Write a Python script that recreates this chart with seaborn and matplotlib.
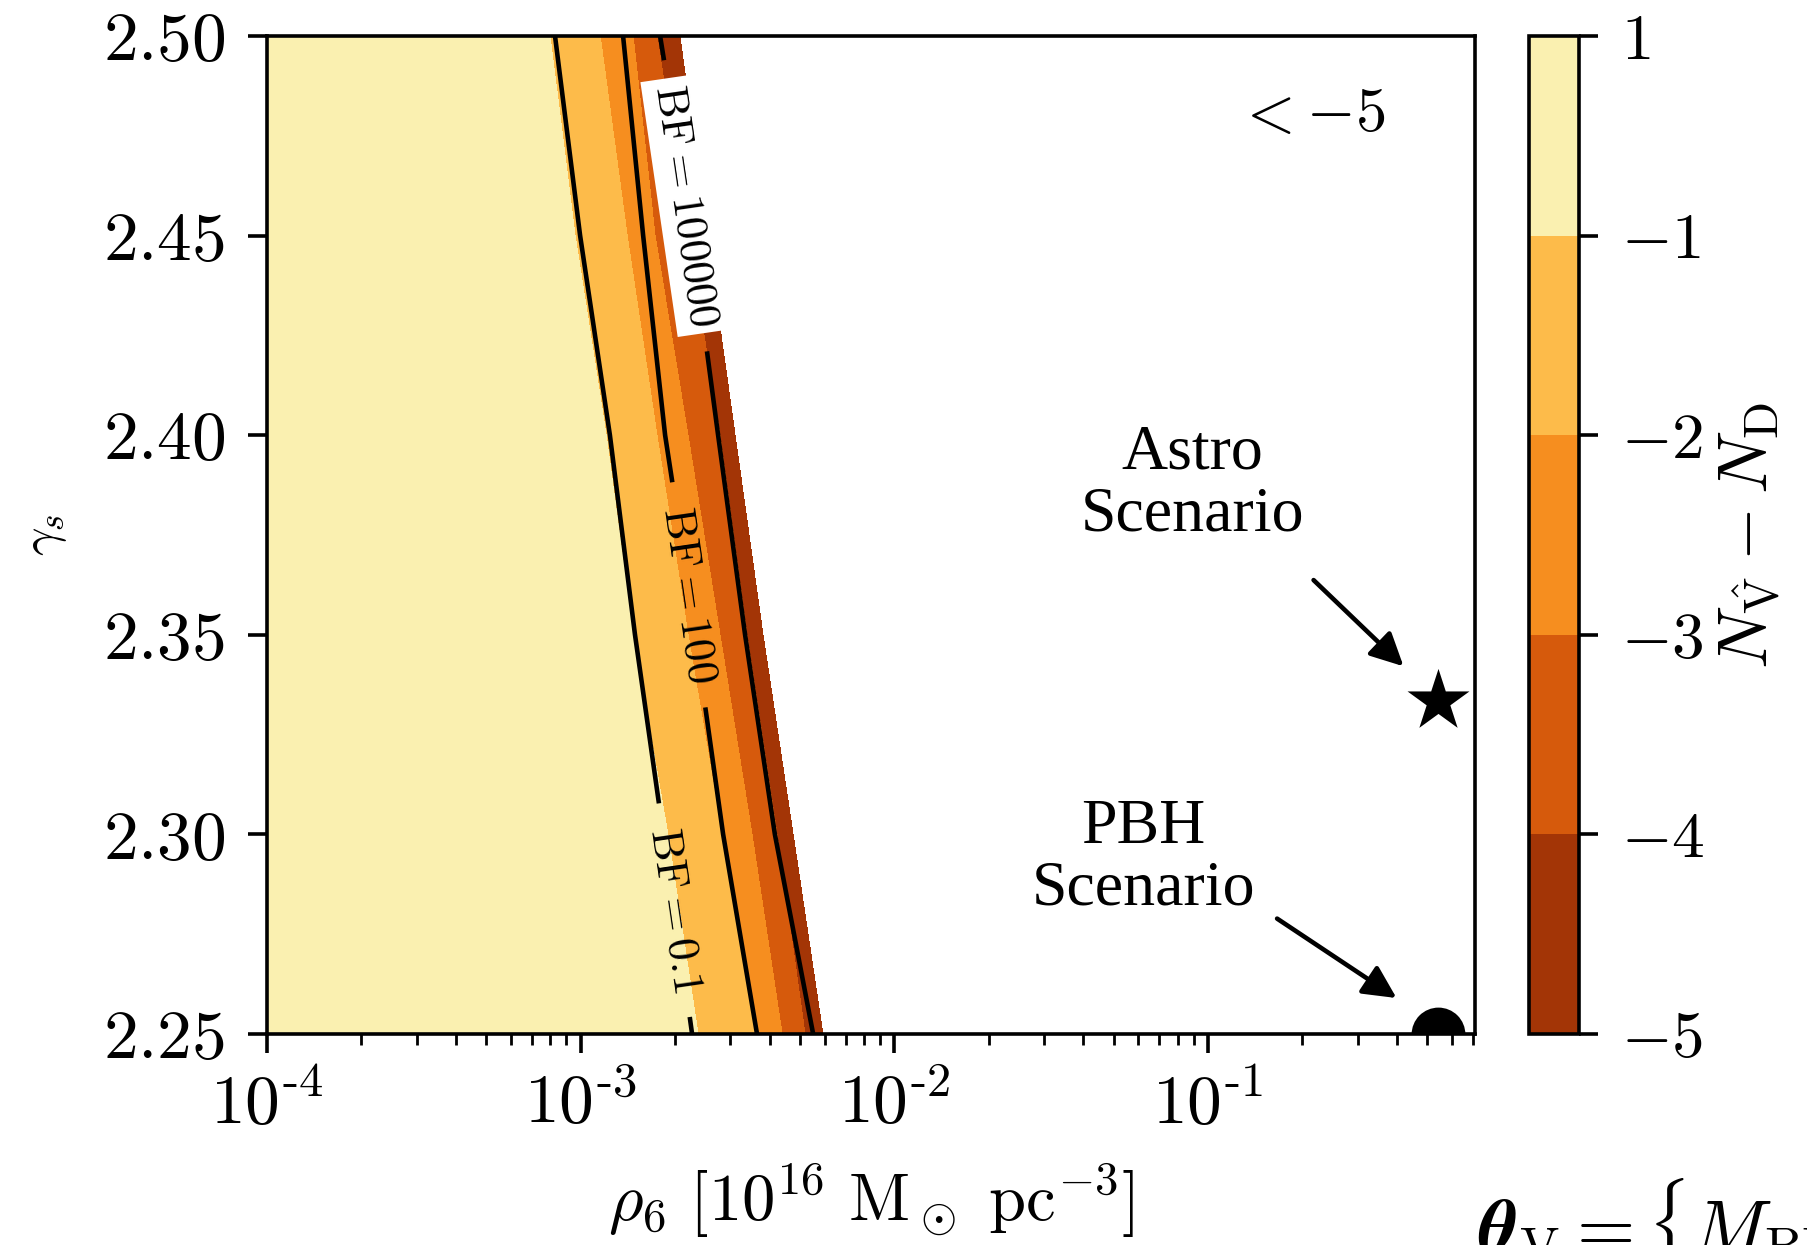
import numpy as np
import matplotlib
matplotlib.use("Agg")
import matplotlib.pyplot as plt
import seaborn as sns
from matplotlib.ticker import FixedLocator, NullFormatter, LogLocator
from matplotlib.mathtext import MathTextParser

# ---------------- data ----------------
gamma_rows = [2.25, 2.30, 2.35, 2.40, 2.45, 2.50]
# log10(rho_6) where N_V - N_D crosses -1, -2, -3, -4, -5 for each gamma row
cross_m1 = [-2.626, -2.722, -2.833, -2.919, -3.018, -3.098]
cross_m2 = [-2.438, -2.550, -2.658, -2.757, -2.852, -2.938]
cross_m3 = [-2.358, -2.454, -2.556, -2.658, -2.763, -2.833]
cross_m4 = [-2.285, -2.374, -2.470, -2.556, -2.658, -2.757]
cross_m5 = [-2.228, -2.323, -2.419, -2.508, -2.597, -2.684]
cross_values = [0, -1, -2, -3, -4, -5, -6]
fill_levels = [-5, -4, -3, -2, -1, 1]
fill_colors = ["#A33506", "#D65A0C", "#F68E1F", "#FDBB4A", "#FAF0B0"]
cbar_labels = ["$-5$", "$-4$", "$-3$", "$-2$", "$-1$", "$1$"]

# log10(rho_6) of the Bayes-factor contours for each gamma row
bf_levels = [-1, 2, 5]  # log10(BF)
bf_names = [r"$\mathrm{BF} = 0.1$", r"$\mathrm{BF} = 100$", r"$\mathrm{BF} = 100000$"]
bf_0p1 = [-2.645, -2.738, -2.827, -2.907, -3.002, -3.082]
bf_100 = [-2.438, -2.546, -2.639, -2.731, -2.801, -2.865]
bf_1e5 = [-2.259, -2.381, -2.476, -2.562, -2.652, -2.747]
bf_values = [-3, -1, 2, 5, 8]
bf_label_rho = [0.00198, 0.0022, 0.00239]
bf_label_gamma = [2.281, 2.360, 2.458]

scenario_rho = [0.54, 0.54]
scenario_gamma = [7 / 3, 2.25]
scenario_names = ["Astro\nScenario", "PBH\nScenario"]
scenario_text_rho = [0.0893, 0.0621]
scenario_text_gamma = [2.3877, 2.2939]
arrow_tail_rho = [0.217, 0.166]
arrow_tail_gamma = [2.3637, 2.2789]
arrow_head_rho = [0.42, 0.399]
arrow_head_gamma = [2.3421, 2.2590]

x_ticks = [1e-4, 1e-3, 1e-2, 1e-1]
x_exps = ["4", "3", "2", "1"]
y_ticks = [2.25, 2.30, 2.35, 2.40, 2.45, 2.50]
x_min, x_max = 1e-4, 0.71
y_min, y_max = 2.25, 2.50

# ---------------- style ----------------
sns.set_theme(style="ticks")
plt.rcParams.update({
    "font.family": ["Liberation Serif", "DejaVu Serif"],
    "mathtext.fontset": "cm",
    "axes.edgecolor": "black",
    "axes.linewidth": 2.6,
    "xtick.color": "black",
    "ytick.color": "black",
    "text.color": "black",
    "axes.labelcolor": "black",
})


def mt_ok(s):
    try:
        MathTextParser("path").parse(s)
        return True
    except Exception:
        return False


if mt_ok(r"$10^{\text{-}4}$"):
    x_ticklabels = [r"$10^{\text{-}%s}$" % e for e in x_exps]
else:
    x_ticklabels = [r"$10^{-%s}$" % e for e in x_exps]

fig = plt.figure(figsize=(18.07, 12.45), dpi=100)
ax = fig.add_axes([0.1478, 0.1695, 0.6685, 0.8016])
ax.set_xscale("log")
ax.set_xlim(x_min, x_max)
ax.set_ylim(y_min, y_max)

G = np.array(gamma_rows)
lo = np.full_like(G, np.log10(x_min))
hi = np.full_like(G, np.log10(x_max))

Xf = 10 ** np.column_stack([lo, cross_m1, cross_m2, cross_m3, cross_m4, cross_m5, hi])
Yf = np.repeat(G[:, None], Xf.shape[1], axis=1)
Zf = np.tile(np.array(cross_values, dtype=float), (len(G), 1))
cf = ax.contourf(Xf, Yf, Zf, levels=fill_levels, colors=fill_colors)

Xl = 10 ** np.column_stack([lo, bf_0p1, bf_100, bf_1e5, hi])
Yl = np.repeat(G[:, None], Xl.shape[1], axis=1)
Zl = np.tile(np.array(bf_values, dtype=float), (len(G), 1))
cs = ax.contour(Xl, Yl, Zl, levels=bf_levels, colors="black", linewidths=3.3,
                linestyles="solid")
fmt = {float(l): n for l, n in zip(bf_levels, bf_names)}
texts = ax.clabel(cs, inline=True, inline_spacing=25, fontsize=32, fmt=fmt,
                  manual=list(zip(bf_label_rho, bf_label_gamma)))
for t in texts:
    if "100000" in t.get_text():
        t.set_bbox(dict(boxstyle="square,pad=0.15", facecolor="white", edgecolor="none"))

# scenario points
sns.scatterplot(x=scenario_rho[:1], y=scenario_gamma[:1], marker="*", s=2200,
                color="black", linewidth=0, ax=ax, legend=False, zorder=5)
sns.scatterplot(x=scenario_rho[1:], y=scenario_gamma[1:], marker="o", s=1500,
                color="black", linewidth=0, ax=ax, legend=False, zorder=5)

for name, tx, ty, ax0, ay0, hx, hy in zip(scenario_names, scenario_text_rho, scenario_text_gamma,
                                          arrow_tail_rho, arrow_tail_gamma,
                                          arrow_head_rho, arrow_head_gamma):
    ax.text(tx, ty, name, ha="center", va="center", fontsize=46, linespacing=1.1)
    ax.annotate("", xy=(hx, hy), xytext=(ax0, ay0),
                arrowprops=dict(arrowstyle="-|>,head_length=0.4,head_width=0.2",
                                lw=3.3, color="black", mutation_scale=50,
                                shrinkA=0, shrinkB=0))

ax.text(0.213, 2.480, r"$<-5$", ha="center", va="center", fontsize=45)

# ticks
ax.xaxis.set_major_locator(FixedLocator(x_ticks))
ax.set_xticklabels(x_ticklabels)
ax.xaxis.set_minor_locator(LogLocator(base=10, subs=np.arange(2, 10)))
ax.xaxis.set_minor_formatter(NullFormatter())
ax.yaxis.set_major_locator(FixedLocator(y_ticks))
ax.set_yticklabels(["$%.2f$" % v for v in y_ticks])
ax.tick_params(axis="both", which="major", direction="out", length=14, width=2.6,
               labelsize=50, top=False, right=False)
ax.tick_params(axis="x", which="major", pad=14)
ax.tick_params(axis="y", which="major", pad=16)
ax.tick_params(axis="x", which="minor", direction="out", length=8, width=2.0, top=False)
ax.tick_params(axis="y", which="minor", left=False, right=False)

ax.set_xlabel(r"$\rho_6\ [10^{16}\ \mathrm{M}_\odot\ \mathrm{pc}^{-3}]$", fontsize=48, labelpad=17)
ax.set_ylabel(r"$\gamma_s$", fontsize=36, labelpad=24)

# colorbar
cax = fig.add_axes([0.8462, 0.1695, 0.0277, 0.8016])
cb = fig.colorbar(cf, cax=cax)
cb.set_ticks(fill_levels)
cb.set_ticklabels(cbar_labels)
cb.outline.set_linewidth(2.6)
cb.outline.set_edgecolor("black")
cb.ax.tick_params(direction="out", length=14, width=2.6, labelsize=47, pad=16)
cb.ax.minorticks_off()
cb.set_label(r"$N_{\hat{\mathrm{V}}} - N_{\mathrm{D}}$", fontsize=50, labelpad=10)

# cut-off fragment at the bottom right (the reference shows it cut by the edge)
frag = r"$\boldsymbol{\theta}_{\mathrm{V}} = \{M_{\mathrm{BH}},\,\rho_6,\,\gamma_s\}$"
if not mt_ok(frag):
    frag = r"$\mathbf{\theta}_{\mathrm{V}} = \{M_{\mathrm{BH}},\,\rho_6,\,\gamma_s\}$"
fig.text(0.818, -0.006, frag, fontsize=54, ha="left", va="baseline")

fig.savefig("out.png", dpi=100)
